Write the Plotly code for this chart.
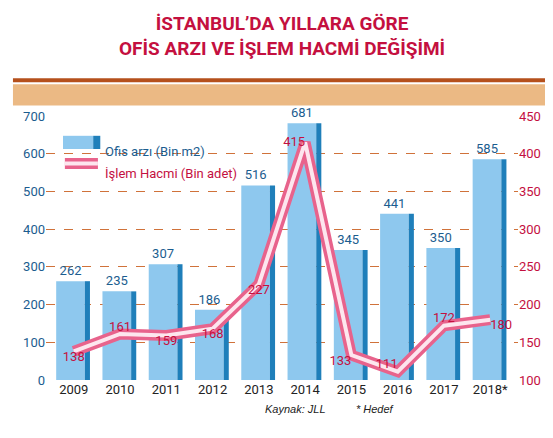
import plotly.graph_objects as go

years = ["2009","2010","2011","2012","2013","2014","2015","2016","2017","2018*"]
ofis = [262,235,307,186,516,681,345,441,350,585]
islem = [138,161,159,168,227,415,133,111,172,180]
left_ticks = [0,100,200,300,400,500,600,700]
right_ticks = [100,150,200,250,300,350,400,450]

F = "Roboto, Liberation Sans, sans-serif"
BLUE = "#1b5d8f"; RED = "#c4103f"
x = list(range(len(years)))

fig = go.Figure()
fig.add_bar(x=x, y=ofis, offset=-0.38, width=0.62, marker=dict(color="#8ec8ee", line=dict(width=0)),
            text=[str(v) for v in ofis], textposition="outside", textfont=dict(color=BLUE, size=13, family=F),
            cliponaxis=False, showlegend=False)
fig.add_bar(x=x, y=ofis, offset=0.24, width=0.11, marker=dict(color="#1f7fba", line=dict(width=0)), showlegend=False)
fig.add_scatter(x=x, y=islem, yaxis="y2", mode="lines", line=dict(color="#e8638c", width=11), showlegend=False)
fig.add_scatter(x=x, y=islem, yaxis="y2", mode="lines", line=dict(color="#fde6ee", width=4), showlegend=False)
pos = ["bottom center","top center","bottom center","bottom center","bottom center","middle left","bottom left","top left","top center","bottom right"]
fig.add_scatter(x=x, y=islem, yaxis="y2", mode="text", text=[str(v) for v in islem], textposition=pos,
                textfont=dict(color=RED, size=13, family=F), showlegend=False, cliponaxis=False)

fig.update_layout(
    width=553, height=438, margin=dict(l=38, r=43, t=108, b=66, autoexpand=False),
    paper_bgcolor="white", plot_bgcolor="white", barmode="overlay",
    xaxis=dict(range=[-0.6, 9.6], tickvals=x, ticktext=years, showgrid=False, zeroline=False,
               tickfont=dict(color="#222", size=13, family=F), showline=False),
    yaxis=dict(range=[0, 700], tickvals=left_ticks, showgrid=True, gridcolor="#d0723a", griddash="dash",
               gridwidth=1, zeroline=False, tickfont=dict(color=BLUE, size=13, family=F), automargin=False),
    yaxis2=dict(range=[100, 450], tickvals=right_ticks, overlaying="y", side="right", showgrid=False,
                zeroline=False, tickfont=dict(color=RED, size=13, family=F), automargin=False),
    shapes=[
        dict(type="rect", xref="paper", yref="paper", x0=-0.07, x1=1.09, y0=1.04, y1=1.12, fillcolor="#ebb984", line_width=0, layer="below"),
        dict(type="line", xref="paper", yref="paper", x0=-0.07, x1=1.09, y0=1.135, y1=1.135, line=dict(color="#b5501c", width=4)),
        dict(type="rect", xref="paper", yref="paper", x0=0.036, x1=0.1, y0=0.875, y1=0.925, fillcolor="#8ec8ee", line_width=0),
        dict(type="rect", xref="paper", yref="paper", x0=0.1, x1=0.115, y0=0.875, y1=0.925, fillcolor="#1f7fba", line_width=0),
        dict(type="line", xref="paper", yref="paper", x0=0.04, x1=0.11, y0=0.82, y1=0.82, line=dict(color="#e8638c", width=11)),
        dict(type="line", xref="paper", yref="paper", x0=0.04, x1=0.11, y0=0.82, y1=0.82, line=dict(color="#fde6ee", width=4)),
    ],
    annotations=[
        dict(text="<b>İSTANBUL’DA YILLARA GÖRE<br>OFİS ARZI VE İŞLEM HACMİ DEĞİŞİMİ</b>", xref="paper", yref="paper",
             x=0.5, y=1.40, yanchor="top", showarrow=False, font=dict(color=RED, size=19, family=F)),
        dict(text="Ofis arzı (Bin m2)", xref="paper", yref="paper", x=0.12, y=0.9, xanchor="left", showarrow=False,
             font=dict(color=BLUE, size=13, family=F)),
        dict(text="İşlem Hacmi (Bin adet)", xref="paper", yref="paper", x=0.12, y=0.82, xanchor="left", showarrow=False,
             font=dict(color=RED, size=13, family=F)),
        dict(text="<i>Kaynak: JLL          * Hedef</i>", xref="paper", yref="paper", x=0.6, y=-0.14, showarrow=False,
             font=dict(color="#222", size=11, family="Liberation Sans, Arial, sans-serif")),
    ],
)
fig.write_html("out.html")
